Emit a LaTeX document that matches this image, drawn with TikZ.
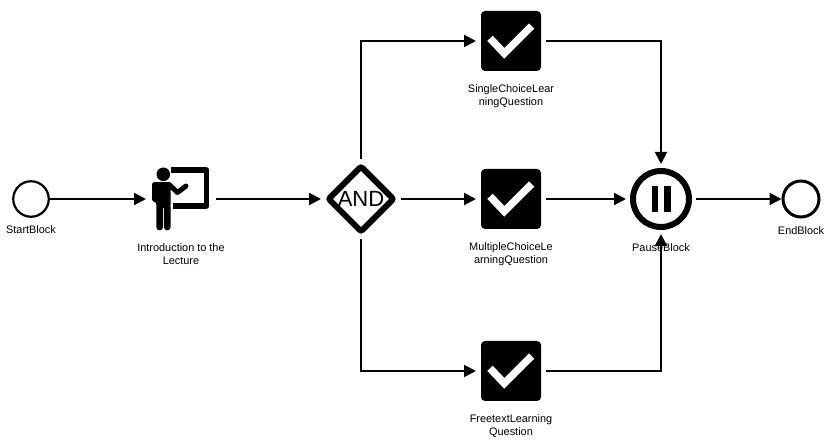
\documentclass[tikz,border=0pt]{standalone}
\usepackage{fontspec}
\setmainfont{Liberation Sans}
\usetikzlibrary{arrows.meta,shapes.geometric}
\tikzset{
  x=1pt,y=-1pt,
  conn/.style={line width=2pt,-{Triangle[length=12pt,width=12pt]}},
  lab/.style={font=\fontsize{10.9}{13}\selectfont,align=center,inner sep=0pt},
  taskbox/.style={rectangle,fill=black,rounded corners=4pt,minimum size=60pt,inner sep=0pt,outer sep=5pt},
  tick/.style={draw=white,line width=7.5pt,line join=miter},
  startev/.style={circle,draw=black,fill=white,line width=2.2pt,minimum size=35.5pt,inner sep=0pt,outer sep=1.2pt},
  endev/.style={circle,draw=black,fill=white,line width=3pt,minimum size=36pt,inner sep=0pt,outer sep=1.5pt},
  pauseev/.style={circle,draw=black,fill=white,line width=6pt,minimum size=56pt,inner sep=0pt,outer sep=7pt},
  gatebox/.style={rectangle,minimum size=80pt,inner sep=0pt,outer sep=0pt},
  gatemark/.style={diamond,draw=black,fill=white,line width=6pt,rounded corners=2pt,minimum size=67pt,inner sep=0pt,font=\fontsize{22}{22}\selectfont},
  iconbox/.style={rectangle,minimum size=60pt,inner sep=0pt,outer sep=5pt},
}
\begin{document}
\begin{tikzpicture}
\useasboundingbox (0,0) rectangle (831,446);
\fill[white] (0,0) rectangle (831,446);

\node[startev] (start) at (31,199) {};
\node[lab] (startl) at (31,230) {StartBlock};

\node[iconbox] (intro) at (181,199) {};
\begin{scope}[shift={(intro.center)}]
  \fill (-17.7,-24.7) circle (6.8);
  \fill[rounded corners=2.5pt] (-29,-16.9) -- (-10.5,-16.9) -- (-10.5,9) -- (-24.6,9) -- (-24.6,3) -- (-29,2.7) -- cycle;
  \fill[rounded corners=3pt] (-24.6,5) -- (-18,5) -- (-18,31.3) -- (-24.6,31.3) -- cycle;
  \fill[rounded corners=3pt] (-17,5) -- (-10.5,5) -- (-10.5,31.3) -- (-17,31.3) -- cycle;
  \draw[line width=5pt,line join=round,line cap=round] (-12,-14.5) -- (-3.5,-6.5) -- (5,-13);
  \draw[line width=5.4pt,line join=round] (-10.3,-29) -- (25.6,-29) -- (25.6,7) -- (-7.7,7);
\end{scope}
\node[lab] (introl) at (181,254) {Introduction to the\\Lecture};

\node[gatebox] (gate) at (361,199) {};
\node[gatemark] (gatem) at (gate.center) {AND};

\node[taskbox] (t1) at (511,41) {};
\node[taskbox] (t2) at (511,199) {};
\node[taskbox] (t3) at (511,371) {};
\foreach \t in {t1,t2,t3}{
  \draw[tick,shift={(\t.center)}] (-21,-2.7) -- (-6.7,12.3) -- (20.7,-15);
}
\node[lab] (t1l) at (511,96) {SingleChoiceLear\\ningQuestion};
\node[lab] (t2l) at (511,254) {MultipleChoiceLe\\arningQuestion};
\node[lab] (t3l) at (511,426) {FreetextLearning\\Question};

\node[lab] (pausel) at (661,247.5) {PauseBlock};
\node[pauseev] (pause) at (661,199) {};
\fill ([xshift=-9.3pt,yshift=-13pt]pause.center) rectangle ([xshift=-2.7pt,yshift=13pt]pause.center);
\fill ([xshift=3pt,yshift=-13pt]pause.center) rectangle ([xshift=9.7pt,yshift=13pt]pause.center);

\node[endev] (end) at (801,199) {};
\node[lab] (endl) at (801,230.5) {EndBlock};

\draw[conn] (start.east) -- (intro.west);
\draw[conn] (intro.east) -- (gate.west);
\draw[conn] (gate.north) |- (t1.west);
\draw[conn] (gate.east) -- (t2.west);
\draw[conn] (gate.south) |- (t3.west);
\draw[conn] (t1.east) -| (pause.north);
\draw[conn] (t2.east) -- (pause.west);
\draw[conn] (t3.east) -| (pause.south);
\draw[conn] (pause.east) -- (end.west);
\end{tikzpicture}
\end{document}
